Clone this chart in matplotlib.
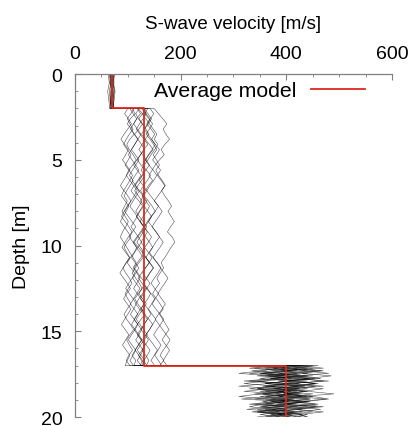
import numpy as np
import matplotlib
matplotlib.use("Agg")
import matplotlib.pyplot as plt
from matplotlib.ticker import MultipleLocator

plt.rcParams['font.family'] = ['Liberation Sans', 'DejaVu Sans']

# ---- data ----
layer_bounds = [0, 2, 17, 20]          # depth of layer interfaces [m]
avg_vs = [70, 130, 400]                # average model S-wave velocity per layer [m/s]

# realisations: velocity samples per layer (top->bottom)
layer1_vs = [
    [70, 68, 71, 69, 67], [66, 68, 65, 67, 69], [72, 74, 71, 73, 70],
    [68, 66, 69, 70, 68], [74, 72, 75, 71, 73], [69, 71, 68, 66, 70],
    [71, 69, 72, 74, 71], [65, 67, 70, 68, 66], [73, 70, 68, 71, 74],
    [67, 70, 72, 69, 71], [70, 72, 69, 67, 70], [68, 71, 73, 70, 69],
    [63, 65, 62, 64, 66], [75, 73, 76, 74, 72],
]
layer2_vs = [
    [108, 114, 105, 99, 107, 112, 104, 98, 103, 110, 116, 109, 102, 97, 104, 111, 118, 112, 106, 100, 94, 101, 108, 115, 109, 103, 110, 117, 112, 105, 99, 106, 113, 108, 102, 96, 103, 110, 116, 111, 105, 112, 119, 114, 107, 101, 108, 115, 110, 104, 111],
    [122, 115, 120, 128, 121, 113, 119, 126, 132, 124, 117, 111, 118, 125, 119, 112, 106, 113, 121, 128, 122, 116, 123, 130, 124, 117, 110, 116, 123, 129, 121, 114, 108, 115, 122, 127, 120, 113, 119, 126, 133, 125, 118, 112, 119, 126, 120, 114, 121, 128, 123],
    [128, 135, 129, 122, 116, 123, 131, 138, 130, 124, 118, 125, 132, 127, 120, 114, 121, 129, 136, 130, 123, 117, 124, 131, 126, 119, 112, 120, 128, 135, 141, 133, 126, 120, 127, 134, 128, 121, 115, 122, 130, 137, 131, 124, 118, 125, 132, 127, 120, 126, 133],
    [112, 106, 99, 104, 110, 103, 97, 92, 99, 106, 101, 95, 102, 109, 104, 98, 92, 88, 95, 102, 97, 91, 86, 93, 100, 106, 99, 93, 98, 104, 97, 91, 96, 103, 108, 101, 95, 100, 106, 99, 93, 98, 105, 111, 104, 98, 103, 109, 102, 97, 104],
    [130, 138, 145, 139, 132, 126, 133, 141, 148, 140, 134, 128, 135, 143, 137, 130, 124, 131, 139, 146, 152, 144, 137, 131, 138, 145, 139, 132, 127, 134, 142, 149, 141, 135, 129, 136, 143, 138, 131, 125, 132, 140, 147, 141, 134, 128, 135, 142, 137, 130, 136],
    [150, 158, 166, 174, 167, 172, 179, 170, 163, 169, 160, 152, 146, 140, 147, 139, 133, 127, 134, 141, 136, 129, 123, 130, 137, 131, 125, 132, 139, 146, 140, 134, 128, 135, 142, 136, 130, 124, 131, 138, 144, 137, 131, 125, 132, 139, 133, 127, 134, 140, 135],
    [138, 132, 140, 147, 141, 135, 142, 149, 155, 148, 154, 160, 153, 158, 165, 171, 164, 170, 177, 183, 176, 182, 188, 181, 175, 184, 189, 182, 176, 170, 163, 168, 161, 155, 160, 153, 147, 154, 161, 167, 160, 166, 172, 178, 171, 165, 172, 179, 173, 167, 174],
    [118, 124, 117, 111, 118, 125, 119, 113, 107, 114, 121, 115, 109, 103, 110, 104, 98, 93, 99, 94, 89, 95, 101, 96, 90, 86, 92, 98, 104, 110, 116, 110, 117, 123, 117, 111, 118, 125, 131, 124, 118, 112, 119, 126, 121, 115, 122, 129, 124, 118, 125],
    [142, 149, 143, 137, 131, 138, 145, 152, 146, 139, 133, 140, 148, 155, 149, 142, 136, 143, 151, 158, 152, 145, 139, 146, 154, 160, 153, 147, 141, 148, 156, 163, 157, 150, 144, 151, 158, 152, 146, 153, 161, 168, 162, 155, 149, 156, 163, 157, 151, 158, 164],
    [120, 127, 134, 141, 148, 155, 150, 157, 151, 144, 138, 131, 125, 132, 126, 119, 113, 120, 127, 121, 115, 122, 129, 136, 130, 123, 117, 124, 131, 125, 118, 112, 119, 126, 133, 127, 121, 128, 135, 129, 122, 116, 123, 130, 137, 131, 124, 118, 125, 132, 126],
    [104, 110, 117, 111, 105, 112, 119, 113, 107, 101, 108, 115, 121, 114, 108, 115, 122, 116, 110, 104, 111, 118, 112, 106, 113, 120, 126, 119, 113, 107, 114, 121, 115, 109, 116, 123, 117, 111, 105, 112, 119, 113, 107, 114, 121, 127, 120, 114, 108, 115, 112],
    [134, 128, 121, 127, 134, 140, 133, 127, 121, 128, 135, 141, 134, 128, 122, 129, 136, 130, 124, 131, 138, 145, 139, 133, 127, 134, 141, 147, 140, 134, 141, 148, 142, 136, 130, 137, 144, 151, 145, 139, 146, 153, 147, 141, 135, 142, 149, 156, 150, 144, 151],
    [100, 94, 101, 107, 100, 93, 87, 94, 101, 96, 90, 97, 104, 98, 92, 86, 93, 100, 106, 99, 93, 88, 95, 102, 108, 101, 95, 89, 96, 103, 97, 91, 85, 92, 99, 105, 98, 92, 99, 106, 100, 94, 88, 95, 102, 96, 90, 97, 104, 99, 95],
    [126, 134, 142, 136, 144, 151, 145, 152, 160, 154, 147, 155, 162, 156, 163, 170, 164, 157, 150, 158, 165, 159, 152, 146, 153, 160, 167, 161, 154, 148, 155, 162, 169, 176, 170, 163, 157, 164, 171, 165, 158, 152, 159, 166, 173, 180, 174, 167, 161, 168, 160],
]
layer3_vs = [
    [395, 340, 420, 365, 450, 380, 330, 410, 470, 390, 350, 430, 375, 315, 400, 455, 385, 345, 420, 370, 410],
    [420, 470, 390, 440, 360, 415, 480, 400, 355, 425, 385, 450, 410, 360, 430, 395, 460, 405, 350, 420, 440],
    [370, 410, 335, 395, 440, 380, 320, 400, 360, 425, 385, 340, 405, 445, 375, 330, 395, 430, 365, 400, 380],
    [440, 385, 455, 400, 345, 420, 470, 410, 370, 440, 395, 355, 415, 475, 420, 380, 440, 390, 345, 410, 370],
    [360, 420, 375, 330, 395, 350, 410, 365, 310, 380, 420, 355, 395, 340, 400, 360, 420, 375, 335, 395, 360],
    [410, 360, 430, 480, 415, 370, 440, 395, 455, 410, 360, 425, 385, 445, 400, 355, 410, 465, 420, 385, 430],
    [385, 440, 400, 350, 420, 465, 405, 360, 420, 380, 440, 490, 425, 385, 445, 400, 355, 415, 450, 400, 420],
    [430, 375, 410, 355, 400, 440, 385, 425, 375, 330, 390, 410, 360, 415, 380, 340, 395, 360, 415, 380, 345],
    [350, 395, 440, 385, 425, 370, 415, 455, 400, 345, 410, 380, 430, 370, 420, 460, 410, 375, 430, 395, 405],
    [405, 450, 395, 350, 405, 455, 400, 360, 435, 395, 440, 400, 350, 390, 440, 395, 350, 400, 380, 430, 390],
    [375, 330, 390, 420, 365, 400, 345, 385, 425, 370, 320, 385, 440, 395, 355, 410, 375, 325, 390, 350, 395],
    [450, 410, 465, 420, 380, 445, 400, 460, 420, 375, 435, 395, 450, 410, 370, 425, 470, 415, 390, 440, 420],
    [330, 385, 355, 310, 370, 410, 360, 320, 380, 345, 395, 350, 310, 365, 405, 355, 330, 380, 345, 390, 360],
    [460, 415, 470, 430, 485, 440, 400, 455, 415, 470, 430, 395, 450, 480, 435, 400, 455, 420, 470, 425, 440],
]

x_ticks = [0, 200, 400, 600]
y_ticks = [0, 5, 10, 15, 20]

# ---- figure ----
fig = plt.figure(figsize=(4.14, 4.27), dpi=100)
ax = fig.add_axes([0.181, 0.021, 0.766, 0.803])

for l1, l2, l3 in zip(layer1_vs, layer2_vs, layer3_vs):
    vs = []
    z = []
    for k, vals in enumerate((l1, l2, l3)):
        vs.extend(vals)
        z.extend(np.linspace(layer_bounds[k], layer_bounds[k + 1], len(vals)))
    ax.plot(vs, z, color='black', lw=0.4, alpha=0.7)

avg_z = []
avg_v = []
for k, v in enumerate(avg_vs):
    avg_z += [layer_bounds[k], layer_bounds[k + 1]]
    avg_v += [v, v]
ax.plot(avg_v, avg_z, color='#dd2a1c', lw=1.3, label='Average model')

ax.set_xlim(0, 600)
ax.set_ylim(20, 0)
ax.set_xticks(x_ticks)
ax.set_yticks(y_ticks)
ax.xaxis.set_minor_locator(MultipleLocator(50))
ax.yaxis.set_minor_locator(MultipleLocator(1))
ax.xaxis.tick_top()
ax.xaxis.set_label_position('top')
ax.tick_params(which='both', direction='in', color='#808080', labelsize=14,
               top=True, bottom=False, left=True, right=False)
ax.tick_params(which='major', length=4, width=0.8)
ax.tick_params(which='minor', length=2.5, width=0.6)
ax.tick_params(axis='x', pad=9)
ax.tick_params(axis='y', pad=9)
for s in ('right', 'bottom'):
    ax.spines[s].set_visible(False)
for s in ('left', 'top'):
    ax.spines[s].set_color('#808080')
    ax.spines[s].set_linewidth(0.9)

ax.set_xlabel('S-wave velocity [m/s]', fontsize=13.5, labelpad=12)
ax.set_ylabel('Depth [m]', fontsize=14, labelpad=8)

ax.legend(loc='upper right', bbox_to_anchor=(0.975, 1.035), frameon=False,
          markerfirst=False, fontsize=15.3, handlelength=2.55, handletextpad=0.7)

fig.savefig('out.png', dpi=100)
